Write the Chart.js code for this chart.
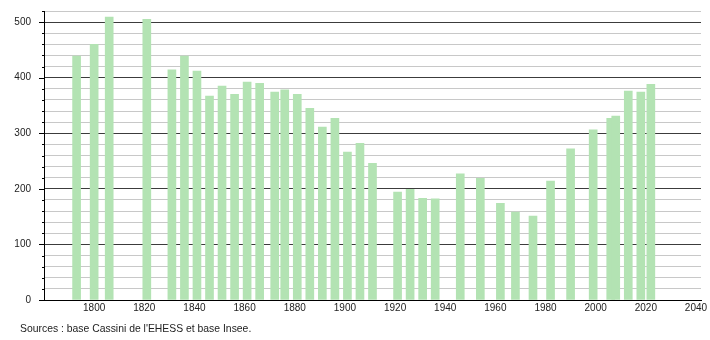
<!DOCTYPE html>
<html>
<head>
<meta charset="utf-8">
<script src="https://cdn.jsdelivr.net/npm/chart.js@4"></script>
<style>
  html, body { margin: 0; padding: 0; background: #fff; }
  #wrap { position: relative; width: 710px; height: 340px; }
  #src { position: absolute; left: 20px; top: 323px; font: 10.4px "Liberation Sans", Arial, sans-serif; color: #222; white-space: nowrap; }
</style>
</head>
<body>
<div id="wrap">
  <canvas id="c" width="710" height="340"></canvas>
  <div id="src">Sources : base Cassini de l'EHESS et base Insee.</div>
</div>
<script>
const years = [1793,1800,1806,1821,1831,1836,1841,1846,1851,1856,1861,1866,1872,1876,1881,1886,1891,1896,1901,1906,1911,1921,1926,1931,1936,1946,1954,1962,1968,1975,1982,1990,1999,2006,2008,2013,2018,2022];
const population = [439,460,509,505,414,439,412,367,385,370,392,390,374,378,370,345,311,327,266,282,246,194,199,183,182,227,219,174,158,151,214,272,306,327,331,376,374,388];
const xTicks = [1800,1820,1840,1860,1880,1900,1920,1940,1960,1980,2000,2020,2040];
const yMajorStep = 100;
const yMinorStep = 20;

const tickMarks = {
  id: 'tickMarks',
  afterDraw(chart) {
    const y = chart.scales.y;
    const ctx = chart.ctx;
    ctx.save();
    ctx.strokeStyle = '#000';
    ctx.lineWidth = 1;
    y.ticks.forEach(t => {
      const py = Math.round(y.getPixelForValue(t.value)) + 0.5;
      const len = (t.value % yMajorStep === 0) ? 5 : 2;
      ctx.beginPath();
      ctx.moveTo(y.right - len, py);
      ctx.lineTo(y.right, py);
      ctx.stroke();
    });
    ctx.restore();
  }
};

new Chart(document.getElementById('c'), {
  type: 'bar',
  data: {
    datasets: [{
      data: years.map((yr, i) => ({ x: yr, y: population[i] })),
      backgroundColor: '#b3e3b3',
      borderWidth: 0,
      barThickness: 8
    }]
  },
  options: {
    responsive: false,
    animation: false,
    layout: { padding: { top: 11, right: 9, bottom: 20, left: 0 } },
    plugins: { legend: { display: false }, tooltip: { enabled: false } },
    scales: {
      x: {
        type: 'linear',
        offset: false,
        min: 1780,
        max: 2042,
        afterBuildTicks: s => { s.ticks = xTicks.map(v => ({ value: v })); },
        afterFit: s => { s.height = 20; },
        grid: { display: false, drawTicks: false, offset: false },
        border: { display: true, color: '#000', width: 1 },
        ticks: {
          padding: 2,
          color: '#222',
          font: { family: 'Liberation Sans', size: 10 },
          maxRotation: 0,
          autoSkip: false,
          callback: v => String(v)
        }
      },
      y: {
        min: 0,
        max: 520,
        afterFit: s => { s.width = 44; },
        grid: {
          drawTicks: true,
          tickLength: 13,
          tickColor: 'rgba(0,0,0,0)',
          color: ctx => (ctx.tick && ctx.tick.value % yMajorStep === 0) ? '#3c3c3c' : '#c8c8c8',
          lineWidth: 1
        },
        border: { display: true, color: '#000', width: 1 },
        ticks: {
          stepSize: yMinorStep,
          padding: 0,
          color: '#222',
          autoSkip: false,
          font: { family: 'Liberation Sans', size: 10 },
          callback: v => (v % yMajorStep === 0 && v <= 500) ? String(v) : ''
        }
      }
    }
  },
  plugins: [tickMarks]
});
</script>
</body>
</html>
